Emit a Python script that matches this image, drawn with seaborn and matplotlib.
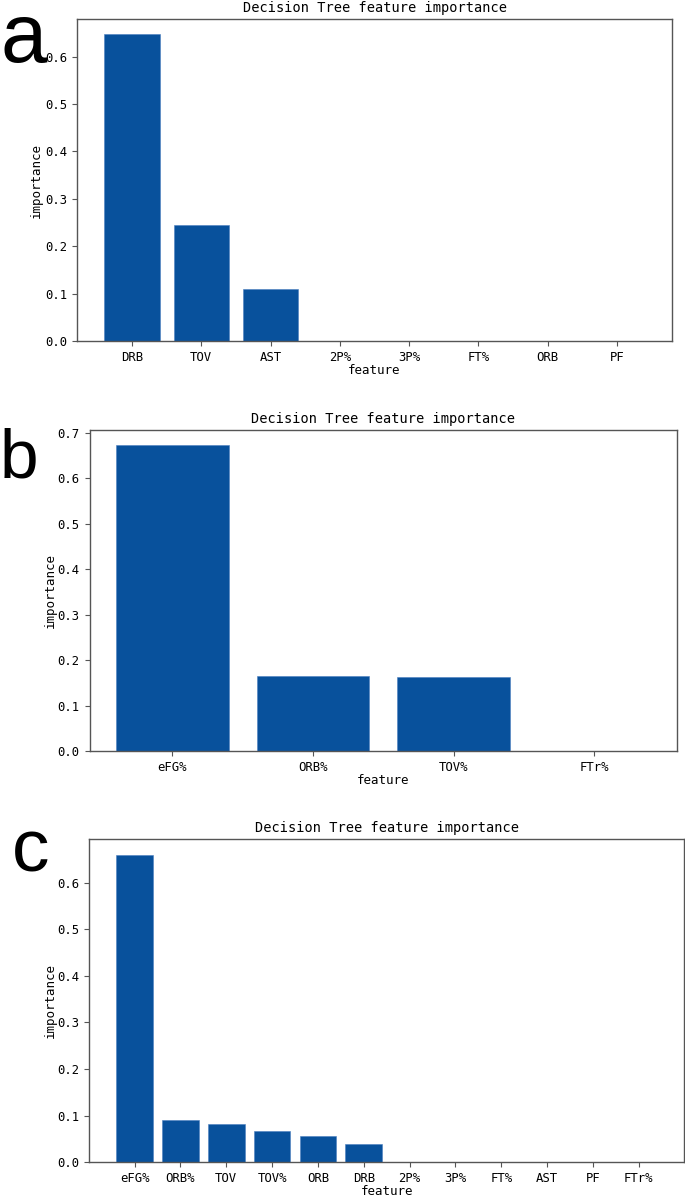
import numpy as np
import pandas as pd
import matplotlib
matplotlib.use("Agg")
import matplotlib.pyplot as plt
import seaborn as sns

# ---- data ----
feat_a = ["DRB", "TOV", "AST", "2P%", "3P%", "FT%", "ORB", "PF"]
imp_a = [0.647, 0.244, 0.109, 0.0, 0.0, 0.0, 0.0, 0.0]

feat_b = ["eFG%", "ORB%", "TOV%", "FTr%"]
imp_b = [0.672, 0.165, 0.163, 0.0]

feat_c = ["eFG%", "ORB%", "TOV", "TOV%", "ORB", "DRB", "2P%", "3P%", "FT%", "AST", "PF", "FTr%"]
imp_c = [0.660, 0.090, 0.082, 0.068, 0.057, 0.040, 0.0, 0.0, 0.0, 0.0, 0.0, 0.0]

title = "Decision Tree feature importance"
panel_letters = ["a", "b", "c"]

BAR = "#08519c"
SPINE = "#555555"
MONO = ["DejaVu Sans Mono"]

W, H = 685, 1196
fig = plt.figure(figsize=(W / 100, H / 100), dpi=100)

# axes rectangles in pixels: left, right, top, bottom
rects = [
    (77.3, 671.7, 19.0, 341.0),
    (89.5, 677.0, 430.0, 751.0),
    (89.3, 684.0, 839.3, 1162.3),
]
ylabel_x = [36.0, 50.0, 50.5]
datasets = [(feat_a, imp_a), (feat_b, imp_b), (feat_c, imp_c)]

for (l, r, t, b), (feats, imps), ylx in zip(rects, datasets, ylabel_x):
    ax = fig.add_axes([l / W, (H - b) / H, (r - l) / W, (b - t) / H])
    df = pd.DataFrame({"feature": feats, "importance": imps})
    sns.barplot(data=df, x="feature", y="importance", order=feats,
                color=BAR, saturation=1, width=0.8, ax=ax,
                edgecolor="#4a7fbf", linewidth=0.4, errorbar=None)
    n = len(feats)
    m = 0.05 * (n - 0.2)
    ax.set_xlim(-0.4 - m, n - 1 + 0.4 + m)
    ax.set_ylim(0, max(imps) * 1.05)
    for s in ax.spines.values():
        s.set_color(SPINE)
        s.set_linewidth(1.0)
    ax.tick_params(colors="black", labelsize=8.8, length=3.5, width=0.8)
    ax.tick_params(axis="both", color=SPINE)
    for lab in ax.get_xticklabels() + ax.get_yticklabels():
        lab.set_fontfamily(MONO)
    ax.yaxis.set_major_formatter(matplotlib.ticker.FormatStrFormatter("%.1f"))
    ax.set_title(title, fontsize=9.8, family=MONO, pad=5)
    ax.set_xlabel("feature", fontsize=9, family=MONO, labelpad=0)
    ax.set_ylabel("importance", fontsize=9, family=MONO, va="center")
    ax.yaxis.set_label_coords((ylx - l) / (r - l), 0.5)

# panel letters
fig.text(0.0, (H - 62) / H, "a", fontsize=60, family="Liberation Sans", ha="left", va="baseline")
fig.text(0.0, (H - 478) / H, "b", fontsize=50, family="Liberation Sans", ha="left", va="baseline")
fig.text(0.0175, (H - 872) / H, "c", fontsize=54, family="Liberation Sans", ha="left", va="baseline")

fig.savefig("out.png", dpi=100)
